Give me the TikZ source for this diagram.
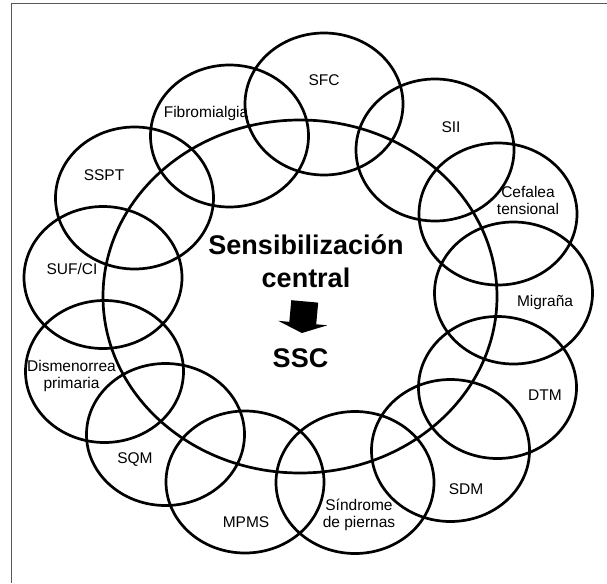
\documentclass[tikz,border=0pt]{standalone}
\usepackage{fontspec}
\setmainfont{Liberation Sans}
\usetikzlibrary{shapes.geometric,arrows.meta}

\begin{document}
\begin{tikzpicture}[x=1pt,y=-1pt,
  ring/.style={draw,ellipse,line width=2.7pt,minimum width=158pt,minimum height=142pt,inner sep=0pt},
  lbl/.style={anchor=base,inner sep=0pt,align=center,font=\fontsize{15.5}{17.5}\selectfont},
  big/.style={anchor=base,inner sep=0pt,align=center,font=\fontsize{27}{33}\selectfont\bfseries}]
  \useasboundingbox (0,0) rectangle (607,583);
  \draw[line width=1pt,black!65] (607,4) -- (11,4) -- (11,583);
  \node[draw,ellipse,line width=2.7pt,minimum width=394pt,minimum height=353pt,inner sep=0pt] (sc0) at (300,296.5) {};
  \node[ring] (fib) at (229.5,136) {};
  \node[ring] (sfc) at (324,104) {};
  \node[ring] (sii) at (435,150) {};
  \node[ring] (cef) at (498,214) {};
  \node[ring] (mig) at (513.5,293) {};
  \node[ring] (dtm) at (497.5,387.5) {};
  \node[ring] (sdm) at (450.5,450.5) {};
  \node[ring] (sdp) at (355,482.5) {};
  \node[ring] (mpms) at (245,482) {};
  \node[ring] (sqm) at (165.5,434.5) {};
  \node[ring] (dis) at (104.5,371.5) {};
  \node[ring] (suf) at (103,277.5) {};
  \node[ring] (sspt) at (134.5,198) {};
  \node[lbl] (fib-t) at (206,117.5) {Fibromialgia};
  \node[lbl] (sfc-t) at (324,85.5) {SFC};
  \node[lbl] (sii-t) at (451,132.5) {SII};
  \node[lbl] (cef-t) at (528,214.5) {Cefalea\\tensional};
  \node[lbl] (mig-t) at (545,306.5) {Migraña};
  \node[lbl] (dtm-t) at (545,400.5) {DTM};
  \node[lbl] (sdm-t) at (466,494.5) {SDM};
  \node[lbl] (sdp-t) at (359,527.5) {Síndrome\\de piernas};
  \node[lbl] (mpms-t) at (246,527.5) {MPMS};
  \node[lbl] (sqm-t) at (135,463.5) {SQM};
  \node[lbl] (dis-t) at (71.5,388.5) {Dismenorrea\\primaria};
  \node[lbl] (suf-t) at (72,274.5) {SUF/CI};
  \node[lbl] (sspt-t) at (104,180.5) {SSPT};
  \node[big] (sc) at (306,287) {Sensibilización\\central};
  \node[big] (ssc) at (300.5,367) {SSC};
  \draw[line width=27pt,-{Triangle[width=49pt,length=10pt]},shorten <=14pt,shorten >=15pt] (sc.south) -- (ssc.north);
\end{tikzpicture}
\end{document}
